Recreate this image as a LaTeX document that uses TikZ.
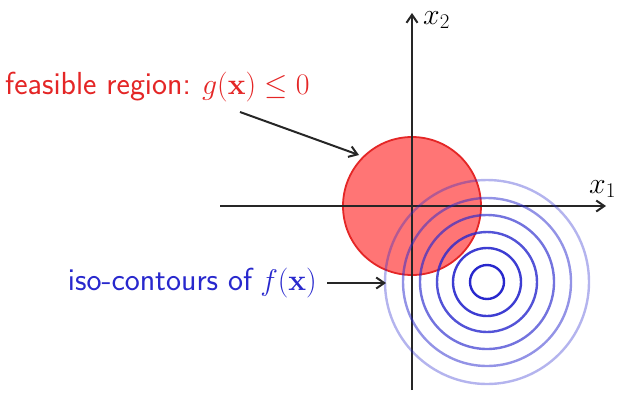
\RequirePackage{fix-cm}
\documentclass[tikz,border=0pt]{standalone}
\usepackage{amsmath}
\usetikzlibrary{arrows.meta}
\definecolor{feasred}{RGB}{228,38,38}
\definecolor{isoblue}{RGB}{40,40,205}
\newcommand{\bigmath}[1]{{\fontsize{30}{36}\selectfont$#1$}}
\tikzset{
  axis/.style={draw=black!85, line width=2bp, -{Straight Barb[length=8bp,width=11bp]}},
  pointer/.style={draw=black!85, line width=2bp, -{Straight Barb[length=8bp,width=11bp]}},
  lbl/.style={font=\sffamily\fontsize{32}{38}\selectfont, inner sep=0pt},
  axlbl/.style={inner sep=0pt, font=\fontsize{30}{34}\selectfont},
  contour/.style={draw=isoblue, line width=2.4bp},
}
\begin{document}
\begin{tikzpicture}[x=1bp,y=-1bp]
\useasboundingbox (0,0) rectangle (627,409);
% feasible region
\fill[red!60, opacity=0.9] (412,206) circle (69);
\draw[feasred, line width=1.8bp] (412,206) circle (69);
% axes
\coordinate (xs) at (220,206);
\coordinate (xe) at (606,206);
\coordinate (ys) at (412,390);
\coordinate (ye) at (412,13);
\draw[axis] (xs) -- (xe);
\draw[axis] (ys) -- (ye);
\node[axlbl, anchor=base west] (x1) at (589,193) {$x_1$};
\node[axlbl, anchor=base west] (x2) at (423,24) {$x_2$};
% contours
\foreach \r/\o in {17/1.0, 34/0.9, 50/0.8, 67/0.65, 84/0.5, 102/0.35}{
  \draw[contour, draw opacity=\o] (487,282) circle (\r);
}
% labels
\node[lbl, text=feasred, anchor=west] (feas) at (5,87) {feasible region:\hspace{-2bp} \bigmath{g(\mathbf{x})\leq 0}};
\node[lbl, text=isoblue, anchor=east] (iso) at (317,283) {iso-contours of\hspace{-2bp} \bigmath{f(\mathbf{x})}};
\coordinate (p1s) at (240,112);
\coordinate (p1e) at (359,155);
\coordinate (p2s) at (327,283);
\coordinate (p2e) at (386,283);
\draw[pointer] (p1s) -- (p1e);
\draw[pointer] (p2s) -- (p2e);
\end{tikzpicture}
\end{document}
